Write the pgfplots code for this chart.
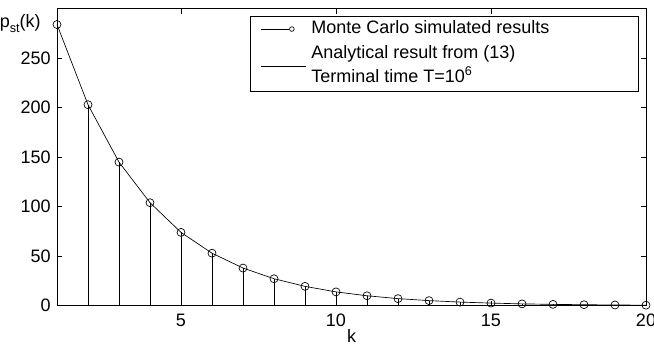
\documentclass[border=0pt]{standalone}
\usepackage{fontspec}
\setmainfont{Liberation Sans}
\usepackage{pgfplots}
\pgfplotsset{compat=1.18}
\begin{document}
\fontsize{13.5}{16}\selectfont
\begin{tikzpicture}
\begin{axis}[
  name=ax,
  scale only axis,
  width=441.75pt, height=222.75pt,
  xmin=1, xmax=20, ymin=0, ymax=300,
  xtick={5,10,15,20}, ytick={0,50,100,150,200,250},
  tick align=inside,
  major tick length=3.75pt,
  /pgf/number format/assume math mode=true,
  axis line style={line width=0.6pt},
  every tick/.style={black, line width=0.5pt},
  xticklabel style={yshift=-1.3pt},
  xlabel={k},
  every axis x label/.style={at={(rel axis cs:0.5,0)}, anchor=base, yshift=-27.5pt},
  ylabel={p\raisebox{-3.5pt}{\fontsize{9.5}{10}\selectfont st}(k)},
  every axis y label/.style={at={(rel axis cs:0,1)}, anchor=base east, xshift=-7.5pt, yshift=-14.5pt},
  clip=false,
  legend cell align=left,
  legend style={at={(1,1)}, anchor=north east, xshift=-5.25pt, yshift=-5.25pt,
    draw=black, line width=0.6pt, fill=white, inner xsep=7pt, inner ysep=2pt,
    column sep=2.25pt, row sep=3pt,
    nodes={inner sep=1.5pt, text height=9.5pt, text depth=3pt}},
]
\addplot[black, line width=0.5pt, ycomb, mark=o, mark size=3pt, mark options={solid},
  legend image code/.code={
    \draw[black, line width=0.5pt] (0pt,0pt) -- (21.5pt,0pt);
    \draw[black, line width=0.5pt] (23.5pt,0pt) circle[radius=1.75pt];
  }] coordinates {
  (1,284) (2,203) (3,145) (4,104) (5,74) (6,53) (7,38) (8,27.2) (9,19.5) (10,13.9)
  (11,10) (12,7.1) (13,5.1) (14,3.6) (15,2.6) (16,1.8) (17,1.3) (18,0.95) (19,0.68) (20,0.48)
};
\addlegendentry{\makebox[237pt][l]{Monte Carlo simulated results}}
\addplot[black, line width=0.5pt, mark=none,
  legend image code/.code={
    \path[draw=none] (0pt,0pt) -- (34.3pt,0pt);
    \draw[overlay, black, line width=0.5pt] (0pt,-9.2pt) -- (34.3pt,-9.2pt);
  }] coordinates {
  (1,284) (2,203) (3,145) (4,104) (5,74) (6,53) (7,38) (8,27.2) (9,19.5) (10,13.9)
  (11,10) (12,7.1) (13,5.1) (14,3.6) (15,2.6) (16,1.8) (17,1.3) (18,0.95) (19,0.68) (20,0.48)
};
\addlegendentry{Analytical result from (13)}
\addlegendimage{empty legend}
\addlegendentry{Terminal time T=10\textsuperscript{6}}
\end{axis}
\pgfresetboundingbox
\path[use as bounding box] ([shift={(-42.75pt,-29.5pt)}]ax.south west) rectangle ([shift={(6pt,6.5pt)}]ax.north east);
\end{tikzpicture}
\end{document}
